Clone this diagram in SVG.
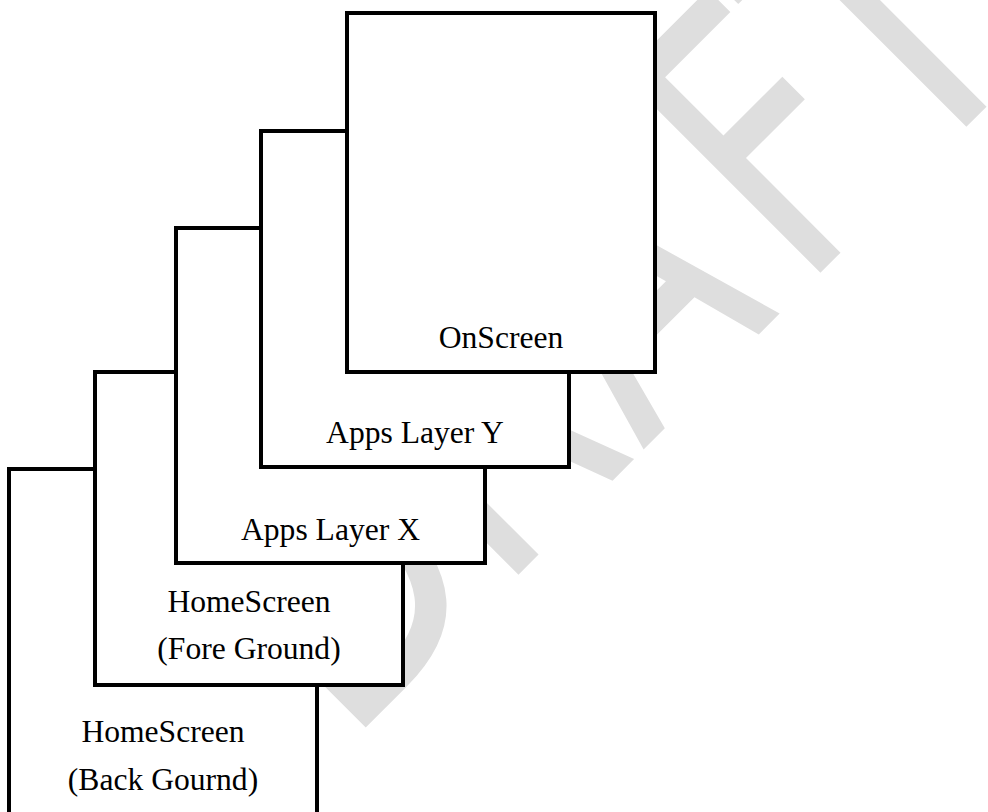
<svg xmlns="http://www.w3.org/2000/svg" width="988" height="812" viewBox="0 0 988 812">
  <style>
    .box { fill: #ffffff; stroke: #000000; stroke-width: 4; stroke-linejoin: miter; }
    .lbl { font-family: "Liberation Serif", "Times New Roman", serif; font-size: 31.6px; fill: #000000; text-anchor: middle; }
    .wm { font-family: "DejaVu Sans", "Liberation Sans", sans-serif; font-size: 384px; fill: #dedede; }
  </style>
  <rect x="0" y="0" width="988" height="812" fill="#ffffff"/>
  <g id="watermark" transform="rotate(-45)">
    <text class="wm" transform="scale(0.75,1)" x="-378.7 -90.7 180 478.7 693.3" y="773">DRAFT</text>
  </g>
  <g id="connectors"></g>
  <g id="homescreen-back">
    <rect class="box" x="9" y="469" width="308" height="360"/>
    <text class="lbl" x="163" y="742">HomeScreen</text>
    <text class="lbl" x="163" y="790">(Back Gournd)</text>
  </g>
  <g id="homescreen-fore">
    <rect class="box" x="95" y="372" width="308" height="313"/>
    <text class="lbl" x="249" y="612">HomeScreen</text>
    <text class="lbl" x="249" y="659">(Fore Ground)</text>
  </g>
  <g id="apps-layer-x">
    <rect class="box" x="176" y="228" width="309" height="335"/>
    <text class="lbl" x="330.5" y="540">Apps Layer X</text>
  </g>
  <g id="apps-layer-y">
    <rect class="box" x="261" y="131" width="308" height="336"/>
    <text class="lbl" x="415" y="443">Apps Layer Y</text>
  </g>
  <g id="onscreen">
    <rect class="box" x="347" y="13" width="308" height="359"/>
    <text class="lbl" x="501" y="348">OnScreen</text>
  </g>
</svg>
